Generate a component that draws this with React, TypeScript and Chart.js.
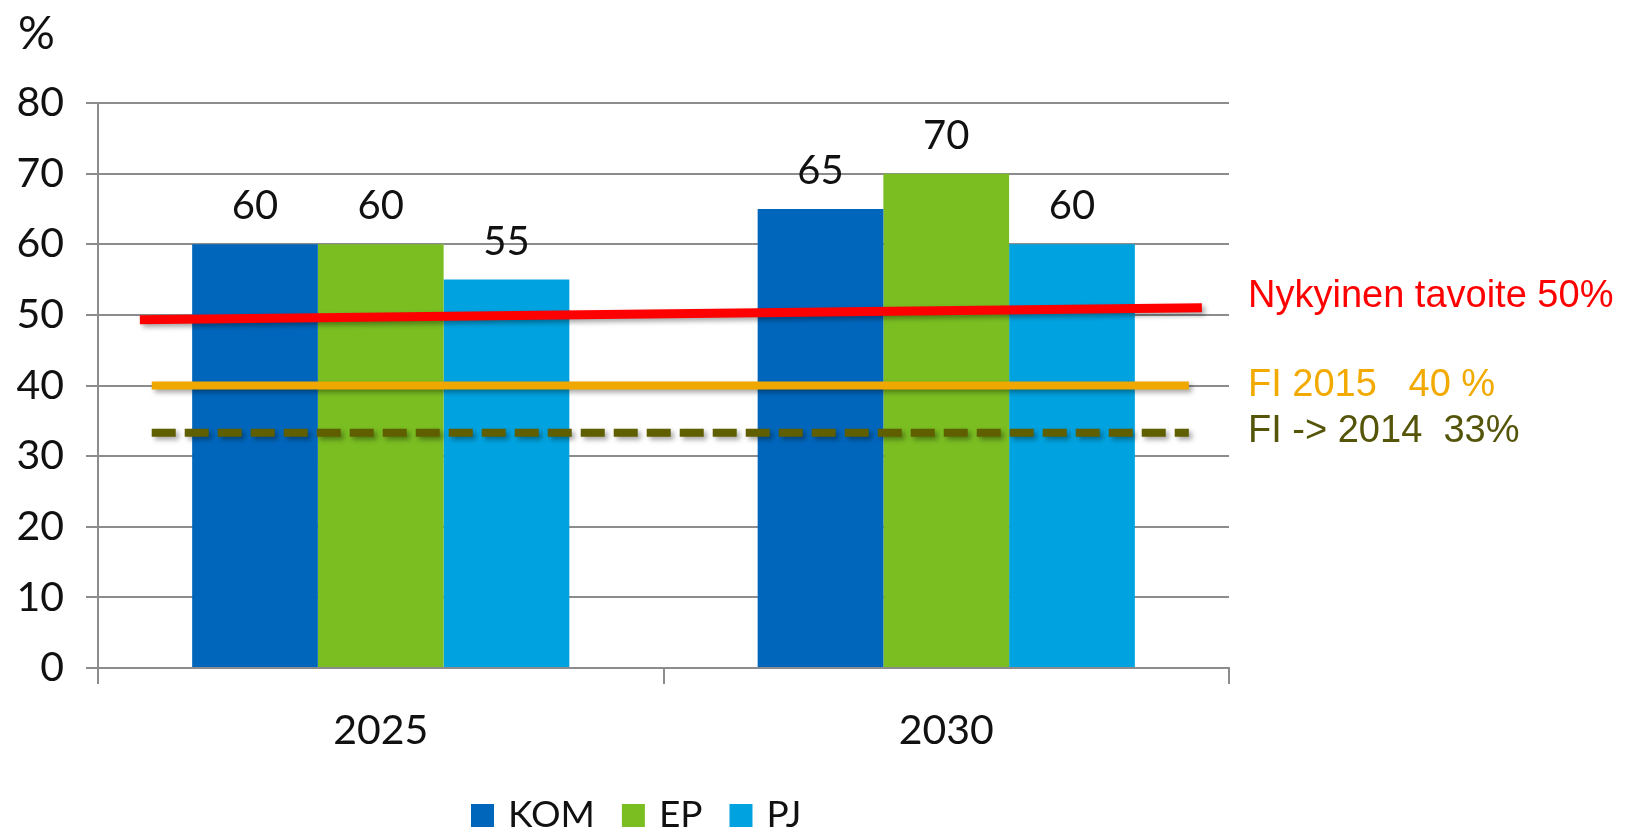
import React, { useEffect, useRef } from "react";
import { Chart, registerables } from "chart.js";

Chart.register(...registerables);

// ---- data ----
const categories = ["2025", "2030"];
const seriesNames = ["KOM", "EP", "PJ"];
const komValues = [60, 65];
const epValues = [60, 70];
const pjValues = [55, 60];
const barColors = ["#0066BC", "#7ABE22", "#00A3E0"];

const yMin = 0;
const yMax = 80;
const yStep = 10;
const yAxisTitle = "%";

// reference lines (x in category-index units, y in %)
const refLabels = ["Nykyinen tavoite 50%", "FI 2015   40 %", "FI -> 2014  33%"];
const refStartX = [-0.426, -0.405, -0.405];
const refEndX = [1.452, 1.429, 1.429];
const refStartY = [49.3, 40, 33.3];
const refEndY = [51.0, 40, 33.3];
const refLabelY = [52.6, 40, 33.5];
const refLineColors = ["#FF0000", "#F0A800", "#5F5F00"];
const refLineWidths = [9, 8, 8];
const refTextColors = ["#FF0000", "#F2AA00", "#55550A"];

const TICK_FONT = "Lato";
const LABEL_FONT = "Liberation Sans";

export default function App() {
  const canvasRef = useRef<HTMLCanvasElement | null>(null);

  useEffect(() => {
    let chart: Chart | null = null;
    let cancelled = false;

    const overlay = {
      id: "overlay",
      beforeDatasetDraw(c: any, args: any) {
        const ds = c.data.datasets[args.index];
        if (ds.type === "line") {
          const ctx = c.ctx;
          ctx.save();
          ctx.shadowColor = "rgba(0,0,0,0.35)";
          ctx.shadowBlur = 5;
          ctx.shadowOffsetX = 3;
          ctx.shadowOffsetY = 3;
        }
      },
      afterDatasetDraw(c: any, args: any) {
        const ds = c.data.datasets[args.index];
        if (ds.type === "line") c.ctx.restore();
      },
      afterDatasetsDraw(c: any) {
        const ctx = c.ctx;
        const area = c.chartArea;
        // value labels above bars
        ctx.save();
        ctx.font = `40px ${TICK_FONT}`;
        ctx.fillStyle = "#111111";
        ctx.textAlign = "center";
        ctx.textBaseline = "alphabetic";
        c.data.datasets.forEach((ds: any, i: number) => {
          if (ds.type !== "bar") return;
          const meta = c.getDatasetMeta(i);
          meta.data.forEach((el: any, j: number) => {
            ctx.fillText(String(ds.data[j]), el.x, el.y - 25);
          });
        });
        ctx.restore();

        // reference line labels on the right
        ctx.save();
        ctx.font = `38px "${LABEL_FONT}"`;
        ctx.textAlign = "left";
        ctx.textBaseline = "middle";
        const ys = c.scales.y;
        refLabels.forEach((t, i) => {
          ctx.fillStyle = refTextColors[i];
          ctx.fillText(t, area.right + 19, ys.getPixelForValue(refLabelY[i]));
        });
        ctx.restore();

        // y axis title
        ctx.save();
        ctx.font = `46px ${TICK_FONT}`;
        ctx.fillStyle = "#111111";
        ctx.textAlign = "left";
        ctx.textBaseline = "alphabetic";
        ctx.fillText(yAxisTitle, area.left - 80, area.top - 54);
        ctx.restore();

        // legend
        ctx.save();
        ctx.font = `37px ${TICK_FONT}`;
        ctx.textAlign = "left";
        ctx.textBaseline = "alphabetic";
        let x = area.left + 373;
        const baseY = 827;
        c.data.datasets.forEach((ds: any) => {
          if (ds.type !== "bar") return;
          ctx.fillStyle = ds.backgroundColor;
          ctx.fillRect(x, baseY - 23, 23, 23);
          x += 37;
          ctx.fillStyle = "#111111";
          ctx.fillText(ds.label, x, baseY);
          x += ctx.measureText(ds.label).width + 27;
        });
        ctx.restore();
      },
    };

    const build = () => {
      if (cancelled || !canvasRef.current) return;
      const barSeries = [komValues, epValues, pjValues];
      const datasets: any[] = [];
      refLabels.forEach((lbl, i) => {
        datasets.push({
          type: "line",
          label: lbl,
          data: [
            { x: refStartX[i], y: refStartY[i] },
            { x: refEndX[i], y: refEndY[i] },
          ],
          borderColor: refLineColors[i],
          borderWidth: refLineWidths[i],
          borderDash: i === 2 ? [24, 9] : [],
          pointRadius: 0,
          tension: 0,
          fill: false,
          order: 0,
        });
      });
      seriesNames.forEach((name, i) => {
        datasets.push({
          type: "bar",
          label: name,
          data: barSeries[i],
          backgroundColor: barColors[i],
          borderWidth: 0,
          barPercentage: 1,
          categoryPercentage: 0.667,
          order: 1,
        });
      });

      chart = new Chart(canvasRef.current, {
        type: "bar",
        data: { labels: categories.map((_, i) => i), datasets },
        plugins: [overlay],
        options: {
          animation: false,
          responsive: false,
          devicePixelRatio: 1,
          layout: { padding: { top: 103, right: 396, left: 0, bottom: 0 } },
          plugins: {
            legend: { display: false },
            tooltip: { enabled: false },
            title: { display: false },
          },
          scales: {
            x: {
              type: "linear",
              min: -0.5,
              max: categories.length - 0.5,
              offset: false,
              afterBuildTicks: (s: any) => {
                s.ticks = categories.map((_, i) => ({ value: i }));
              },
              grid: {
                offset: true,
                drawOnChartArea: false,
                color: "#8C8C8C",
                lineWidth: 2,
                tickLength: 16,
              },
              border: { display: true, color: "#8C8C8C", width: 2 },
              ticks: {
                font: { family: TICK_FONT, size: 41 },
                color: "#111111",
                padding: 22,
                maxRotation: 0,
                autoSkip: false,
                callback: (v: any) => categories[Math.round(Number(v))] ?? "",
              },
              afterFit: (s: any) => {
                s.height = 163;
              },
            },
            y: {
              type: "linear",
              min: yMin,
              max: yMax,
              ticks: {
                stepSize: yStep,
                font: { family: TICK_FONT, size: 41 },
                color: "#111111",
                padding: 22,
              },
              grid: {
                color: "#8C8C8C",
                lineWidth: 2,
                tickLength: 12,
              },
              border: { display: true, color: "#8C8C8C", width: 2 },
              afterFit: (s: any) => {
                s.width = 98;
              },
            },
          },
        } as any,
      });
    };

    const fontsReady = (document as any).fonts
      ? Promise.all([
          (document as any).fonts.load(`40px ${TICK_FONT}`),
          (document as any).fonts.load(`38px "${LABEL_FONT}"`),
        ]).catch(() => null)
      : Promise.resolve(null);
    fontsReady.then(build);

    return () => {
      cancelled = true;
      if (chart) chart.destroy();
    };
  }, []);

  return (
    <div
      style={{
        position: "fixed",
        left: 0,
        top: 0,
        width: 1625,
        height: 831,
        background: "#ffffff",
      }}
    >
      <canvas
        ref={canvasRef}
        width={1625}
        height={831}
        style={{ display: "block", width: 1625, height: 831 }}
      />
    </div>
  );
}
